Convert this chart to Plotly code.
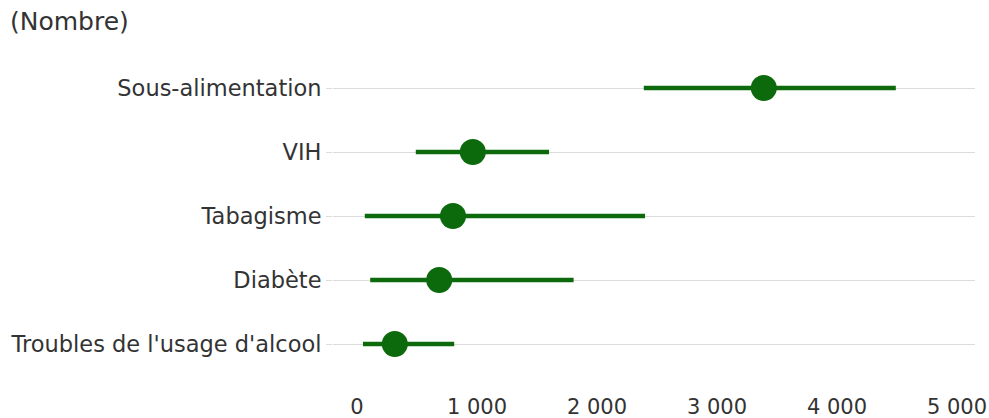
import plotly.graph_objects as go

# Estimates with uncertainty intervals (number)
categories = ["Sous-alimentation", "VIH", "Tabagisme", "Diabète", "Troubles de l'usage d'alcool"]
estimate = [3390, 965, 800, 685, 315]
lower = [2390, 490, 65, 110, 50]
upper = [4490, 1600, 2400, 1805, 810]

x_ticks = [0, 1000, 2000, 3000, 4000, 5000]
x_tick_labels = ["0", "1 000", "2 000", "3 000", "4 000", "5 000"]

green = "#0c690c"
text_color = "#333333"
font_family = "DejaVu Sans, Liberation Sans, Arial, sans-serif"

fig = go.Figure(
    go.Scatter(
        x=estimate,
        y=categories,
        mode="markers",
        marker=dict(size=26, color=green),
        error_x=dict(
            type="data",
            symmetric=False,
            array=[u - e for u, e in zip(upper, estimate)],
            arrayminus=[e - l for e, l in zip(estimate, lower)],
            color=green,
            thickness=4.5,
            width=0,
        ),
        hoverinfo="skip",
    )
)

fig.update_layout(
    width=989,
    height=418,
    margin=dict(l=333, r=14, t=56, b=26),
    paper_bgcolor="white",
    plot_bgcolor="white",
    showlegend=False,
    font=dict(family=font_family, size=21, color=text_color),
    title=dict(
        text="(Nombre)",
        x=10 / 989, xref="container", xanchor="left",
        y=1 - 21 / 418, yref="container", yanchor="middle",
        font=dict(family=font_family, size=25, color=text_color),
    ),
)

fig.update_xaxes(
    range=[-200, 5150],
    tickvals=x_ticks,
    ticktext=x_tick_labels,
    showgrid=False,
    zeroline=False,
    showline=False,
    ticks="",
    automargin=False,
    tickfont=dict(size=21, color=text_color),
)

fig.update_yaxes(
    categoryorder="array",
    categoryarray=categories[::-1],
    range=[-0.75, 4.5],
    showgrid=True,
    gridcolor="#dcdcdc",
    gridwidth=1,
    zeroline=False,
    showline=False,
    ticks="outside",
    ticklen=6,
    tickcolor="#dcdcdc",
    automargin=False,
    tickfont=dict(size=22.5, color=text_color),
)

fig.write_html("out.html")
